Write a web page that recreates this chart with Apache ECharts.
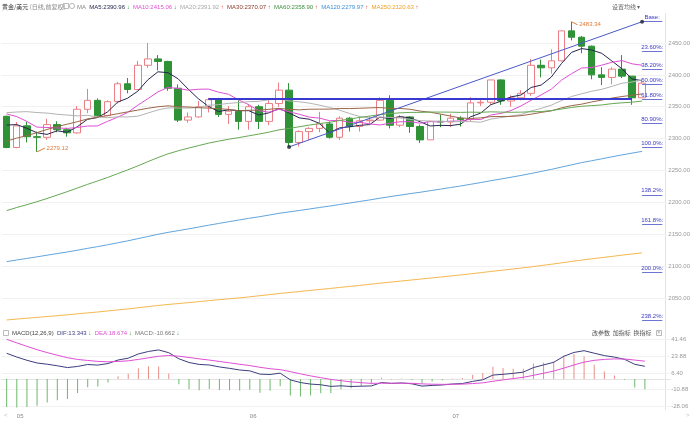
<!DOCTYPE html>
<html><head><meta charset="utf-8">
<script src="https://cdn.jsdelivr.net/npm/echarts@6/dist/echarts.min.js"></script>
<style>html,body{margin:0;padding:0;background:#fff}#c{width:693px;height:423px}</style>
</head><body><div id="c"></div>
<script>
// ---------- data ----------
const dates = ['2024-04-30','2024-05-01','2024-05-02','2024-05-03','2024-05-06','2024-05-07','2024-05-08','2024-05-09','2024-05-10','2024-05-13','2024-05-14','2024-05-15','2024-05-16','2024-05-17','2024-05-20','2024-05-21','2024-05-22','2024-05-23','2024-05-24','2024-05-27','2024-05-28','2024-05-29','2024-05-30','2024-05-31','2024-06-03','2024-06-04','2024-06-05','2024-06-06','2024-06-07','2024-06-10','2024-06-11','2024-06-12','2024-06-13','2024-06-14','2024-06-17','2024-06-18','2024-06-19','2024-06-20','2024-06-21','2024-06-24','2024-06-25','2024-06-26','2024-06-27','2024-06-28','2024-07-01','2024-07-02','2024-07-03','2024-07-04','2024-07-05','2024-07-08','2024-07-09','2024-07-10','2024-07-11','2024-07-12','2024-07-15','2024-07-16','2024-07-17','2024-07-18','2024-07-19','2024-07-22','2024-07-23','2024-07-24','2024-07-25','2024-07-26'];
const futureSlots = ['2024-07-29','2024-07-30'];
const opens = [2335,2286,2320,2303,2302,2322,2314,2309,2346,2360,2336,2358,2386,2377,2415,2425,2421,2379,2329,2334,2350,2361,2338,2343,2327,2350,2327,2355,2376,2294,2311,2316,2323,2302,2332,2319,2328,2329,2360,2321,2334,2319,2298,2327,2326,2332,2330,2356,2357,2392,2359,2364,2371,2415,2411,2422,2469,2459,2445,2400,2396,2409,2398,2364];
const closes = [2286,2320,2303,2302,2322,2314,2309,2346,2360,2336,2358,2386,2377,2415,2425,2421,2379,2329,2334,2350,2361,2338,2343,2327,2350,2327,2355,2376,2294,2311,2316,2323,2302,2332,2319,2328,2329,2360,2321,2334,2319,2298,2327,2326,2332,2330,2356,2357,2392,2359,2364,2371,2415,2411,2422,2469,2459,2445,2400,2396,2409,2398,2364,2387];
const lows = [2285,2285,2294,2279.12,2298,2310,2303,2308,2340,2334,2335,2355,2371,2376,2411,2407,2375,2326,2325,2333,2341,2334,2323,2314,2314,2315,2321,2350,2286.9,2287.5,2298,2310,2300,2298,2311,2311,2323,2328,2316,2318,2309,2293,2298,2318,2318,2319,2327,2351,2353,2353,2350,2360,2367,2396,2402,2421,2454,2434,2393,2384,2385,2395,2353,2364];
const highs = [2336,2326,2326,2311,2331,2327,2317,2351,2378,2363,2360,2389,2395,2422,2450,2431,2422,2385,2341,2359,2364,2364,2351,2360,2354,2353,2360,2388,2387,2313,2318,2342,2327,2335,2334,2335,2335,2365,2368,2337,2335,2322,2328,2338,2339,2335,2365,2363,2392,2393,2368,2376,2425,2424,2440,2469,2483.34,2461,2446,2412,2412,2431,2398,2390];

const ma5 = [2321.2,2322,2316.2,2309.2,2306.6,2312.2,2310,2318.6,2330.2,2333,2341.8,2357.2,2363.4,2374.4,2392.2,2404.8,2403.4,2393.8,2377.6,2362.6,2350.6,2342.4,2345.2,2343.8,2343.8,2337,2340.4,2347,2340.4,2332.6,2330.4,2324,2309.2,2316.8,2318.4,2320.8,2322,2333.6,2331.4,2334.4,2332.6,2326.4,2319.8,2320.8,2320.4,2322.6,2334.2,2340,2353.2,2358.6,2365.4,2368.4,2380.2,2384,2396.6,2417.6,2435.2,2441.2,2439,2433.8,2421.8,2409.6,2393.4,2390.96];
const ma10 = [2338.7,2334.6,2327,2318,2317.5,2316.7,2316,2317.4,2319.7,2319.8,2327,2333.6,2341,2352.3,2362.6,2373.3,2380.3,2378.6,2376,2377.4,2377.7,2372.9,2369.5,2360.7,2353.2,2343.8,2341.4,2346.1,2342.1,2338.2,2333.7,2332.2,2328.1,2328.6,2325.5,2325.6,2323,2321.4,2324.1,2326.4,2326.7,2324.2,2326.7,2326.1,2327.4,2327.6,2330.3,2329.9,2337,2339.5,2344,2351.3,2360.1,2368.6,2377.6,2391.5,2401.8,2410.7,2411.5,2415.2,2419.7,2422.4,2417.3,2415.06];
const ma20 = [2340.7,2341.7,2342.3,2340.9,2340.05,2338.15,2336.95,2335.65,2336.45,2334.1,2332.85,2334.1,2334,2335.15,2340.05,2345,2348.15,2348,2347.85,2348.6,2352.35,2353.25,2355.25,2356.5,2357.9,2358.55,2360.85,2362.35,2359.05,2357.8,2355.7,2352.55,2348.8,2344.65,2339.35,2334.7,2332.2,2333.75,2333.1,2332.3,2330.2,2328.2,2327.4,2327.35,2326.45,2326.6,2326.65,2325.65,2330.55,2332.95,2335.35,2337.75,2343.4,2347.35,2352.5,2359.55,2366.05,2370.3,2374.25,2377.35,2381.85,2386.85,2388.7,2391.92];
const ma30 = [2296.2,2300.7,2304.7,2309.3,2314.3,2318.8,2322.6,2326.5,2330.7,2333.5,2336.1,2339,2341.9,2344.7,2347.6,2349.9,2351.4,2350,2349.6,2348.5,2347.8,2347,2345.8,2343.7,2344.4,2344.6,2345.9,2347.4,2345.9,2345.1,2346.1,2346.2,2346.2,2347.2,2347.1,2347.6,2348.2,2348.7,2347.4,2347.3,2346,2343.1,2341.4,2338.5,2335.4,2332.3,2331.6,2332.5,2334.4,2334.7,2334.8,2335.9,2338.3,2341.1,2343.5,2348.2,2351.7,2354,2357.5,2360.4,2363.5,2366,2368,2370.07];
const ma60 = [2187.0,2191.9,2196.3,2201.0,2206.0,2211.4,2216.7,2222.4,2228.1,2233.5,2239.0,2245.0,2250.9,2257.2,2263.8,2270.3,2276.1,2280.8,2285.0,2288.9,2292.8,2296.0,2299.0,2301.5,2304.3,2307.1,2310.1,2313.7,2316.0,2318.5,2321.2,2323.5,2325.5,2328.3,2330.7,2333.2,2335.4,2337.6,2339.1,2340.4,2341.1,2341.1,2341.7,2341.6,2341.5,2341.1,2341.5,2341.2,2342.0,2341.6,2341.3,2341.5,2342.1,2342.4,2344.0,2346.4,2348.8,2350.7,2351.7,2352.8,2354.8,2356.1,2357.1,2358.9];
const ma120 = [2107.0,2109.6,2112.0,2114.5,2117.1,2119.6,2122.1,2124.9,2127.8,2130.5,2133.4,2136.5,2139.6,2143.0,2146.4,2149.9,2152.9,2155.6,2158.3,2161.1,2164.1,2166.8,2169.6,2172.2,2174.9,2177.3,2180.0,2182.8,2185.0,2187.2,2189.5,2191.9,2194.1,2196.6,2198.9,2201.4,2203.8,2206.5,2208.9,2211.3,2213.7,2215.8,2218.3,2220.7,2223.2,2225.6,2228.3,2231.0,2234.0,2236.6,2239.4,2242.2,2245.3,2248.5,2251.7,2255.3,2258.8,2262.3,2265.3,2268.3,2271.4,2274.4,2277.2,2279.97];
const ma250 = [2015.5,2016.9,2018.2,2019.5,2020.9,2022.2,2023.6,2025.1,2026.6,2028.0,2029.6,2031.2,2032.8,2034.6,2036.4,2038.2,2039.8,2041.2,2042.7,2044.2,2045.7,2047.2,2048.6,2050.0,2051.7,2053.4,2055.1,2057.0,2058.5,2060.1,2061.7,2063.3,2064.8,2066.5,2068.1,2069.7,2071.4,2073.2,2074.8,2076.4,2078.0,2079.6,2081.2,2082.8,2084.5,2086.1,2087.9,2089.7,2091.6,2093.3,2095.1,2096.9,2098.9,2100.9,2102.9,2105.1,2107.3,2109.4,2111.4,2113.3,2115.2,2117.2,2119.0,2120.63];

const dif = [26.9,23.0,19.6,16.8,15.5,13.9,12.0,13.2,15.2,14.6,16.2,19.9,21.8,26.2,28.8,30.4,27.5,21.2,17.3,15.3,14.7,12.7,11.2,9.5,8.6,5.2,4.8,6.2,-0.8,-3.6,-5.2,-5.9,-7.6,-7.0,-7.7,-7.4,-7.1,-3.6,-4.5,-4.0,-4.9,-7.3,-6.6,-6.1,-5.1,-4.6,-2.4,-0.7,4.2,5.0,6.0,7.3,12.0,14.8,17.5,23.8,27.8,29.6,27.0,24.5,22.9,20.6,15.4,13.343];
const dea = [41.46,37.77,34.14,30.67,27.64,24.89,22.31,20.49,19.43,18.46,18.01,18.39,19.07,20.50,22.16,23.81,24.55,23.88,22.56,21.11,19.83,18.40,16.96,15.47,14.10,12.32,10.82,9.90,7.76,5.49,3.35,1.50,-0.32,-1.66,-2.87,-3.78,-4.44,-4.27,-4.32,-4.26,-4.39,-4.97,-5.30,-5.46,-5.39,-5.23,-4.66,-3.87,-2.26,-0.81,0.55,1.90,3.92,6.10,8.38,11.46,14.73,17.70,19.56,20.55,21.02,20.94,19.83,18.674];
const macdHist = [-29.12,-29.54,-29.08,-27.74,-24.28,-21.98,-20.62,-14.58,-8.46,-7.72,-3.62,3.02,5.46,11.4,13.28,13.18,5.9,-5.36,-10.52,-11.62,-10.26,-11.4,-11.52,-11.94,-11.0,-14.24,-12.04,-7.4,-17.12,-18.18,-17.1,-14.8,-14.56,-10.68,-9.66,-7.24,-5.32,1.34,-0.36,0.52,-1.02,-4.66,-2.6,-1.28,0.58,1.26,4.52,6.34,12.92,11.62,10.9,10.8,16.16,17.4,18.24,24.68,26.14,23.8,14.88,7.9,3.76,-0.68,-8.86,-10.662];

const priceTicks = [2050,2100,2150,2200,2250,2300,2350,2400,2450];
const macdTicks = [41.46,23.88,6.40,-10.88,-28.06];
const fibHigh = 2483.34, fibLow = 2286.9;
const fibRatios = [0,0.236,0.382,0.5,0.618,0.809,1,1.382,1.618,2,2.382];
const fibNames = ['Base','23.60%','38.20%','50.00%','61.80%','80.90%','100.0%','138.2%','161.8%','200.0%','238.2%'];
const trendStartIdx = 28, trendEndIdx = 63, hLineStartIdx = 20, hLineEndIdx = 62;
const maxIdx = 56, minIdx = 3;

// ---------- chart ----------
const FONT = '"Liberation Sans", Arial, "Noto Sans CJK SC", sans-serif';
const CJK = '"Noto Sans CJK SC", "Liberation Sans", sans-serif';
const UP = '#ec7f86', DOWN = '#2f9236';
const cats = dates.concat(futureSlots);
const candle = opens.map((o, i) => [o, closes[i], lows[i], highs[i]]);
const fibLevels = fibRatios.map(r => fibHigh - r * (fibHigh - fibLow));
const fib618 = fibLevels[fibRatios.indexOf(0.618)];

const GL = 1.6, GW = 668.6;

function arrow(arr){ const n = arr.length; return arr[n-1] >= arr[n-2] ? '↑' : '↓'; }
function arrowColor(arr){ return arrow(arr) === '↑' ? '#e0403a' : '#2f9236'; }

function richLine(parts){
  let text = '', rich = {};
  parts.forEach((p, i) => {
    const k = 's' + i;
    text += '{' + k + '|' + p.t + '}';
    rich[k] = {fill: p.c, color: p.c, fontSize: p.fs || 6, fontFamily: p.ff || FONT};
  });
  return {text, rich};
}

const maDefs = [
  ['MA5', ma5, '#26264f', '#26264f'],
  ['MA10', ma10, '#e04fd4', '#e04fd4'],
  ['MA20', ma20, '#a8a8a8', '#b3b3b3'],
  ['MA30', ma30, '#8e3b2c', '#9a6648'],
  ['MA60', ma60, '#3f8f3f', '#66a853'],
  ['MA120', ma120, '#3f8fd8', '#62a5dd'],
  ['MA250', ma250, '#f0a020', '#f5b850']
];

const topParts = [{t:'MA  ', c:'#888'}];
maDefs.forEach(d => {
  const a = d[1];
  topParts.push({t: d[0] + ':' + a[a.length-1].toFixed(2) + ' ', c: d[2]});
  topParts.push({t: arrow(a) + '  ', c: arrowColor(a)});
});
const topRich = richLine(topParts);
const titleRich = richLine([{t:'黄金/美元 ', c:'#333', ff: CJK}, {t:'(日线,前复权)', c:'#888', ff: CJK}]);

const macdParts = [
  {t:'MACD(12,26,9)  ', c:'#444'},
  {t:'DIF:' + dif[dif.length-1].toFixed(3) + ' ', c:'#3d3d80'}, {t: arrow(dif) + '  ', c: arrowColor(dif)},
  {t:'DEA:' + dea[dea.length-1].toFixed(3) + ' ', c:'#e04fd4'}, {t: arrow(dea) + '  ', c: arrowColor(dea)},
  {t:'MACD:' + macdHist[macdHist.length-1].toFixed(3) + ' ', c:'#777'}, {t: arrow(macdHist), c: arrowColor(macdHist)}
];
const macdRich = richLine(macdParts);

const fibMarks = fibLevels.map((lv, i) => [
  {coord: [cats[trendEndIdx], lv], label: {formatter: fibNames[i] + ':'}},
  {coord: [cats[cats.length-1], lv]}
]);

const option = {
  animation: false,
  backgroundColor: '#fff',
  textStyle: {fontFamily: FONT},
  grid: [
    {left: GL, width: GW, top: 11.1, height: 318.75},
    {left: GL, width: GW, top: 327, height: 83}
  ],
  xAxis: [
    {type:'category', gridIndex:0, data: cats, boundaryGap: true,
     axisLine:{show:false}, axisTick:{show:false}, axisLabel:{show:false}, splitLine:{show:false}},
    {type:'category', gridIndex:1, data: cats, boundaryGap: true,
     axisLine:{show:true, lineStyle:{color:'#e3e3e3'}}, axisTick:{show:false},
     axisLabel:{show:true, fontSize:6, color:'#888', align:'left', margin:3,
       interval: (i, v) => i > 0 && i < dates.length && dates[i].slice(5,7) !== dates[i-1].slice(5,7),
       formatter: v => v.slice(5,7)},
     splitLine:{show:false}}
  ],
  yAxis: [
    {type:'value', gridIndex:0, position:'right', min:2000, max:2500, interval:50,
     axisLine:{show:false}, axisTick:{show:false},
     axisLabel:{fontSize:6, color:'#999', margin:1, showMinLabel:false, showMaxLabel:false,
       formatter: v => priceTicks.includes(v) ? v.toFixed(2) : ''},
     splitLine:{show:true, showMinLine:false, showMaxLine:false, lineStyle:{color:'#f1f1f1', width:1}}},
    {type:'value', gridIndex:1, position:'right', min:-32.2, max:54.3,
     axisLine:{show:false},
     axisTick:{show:false, customValues: macdTicks},
     axisLabel:{fontSize:6, color:'#999', margin:1, customValues: macdTicks, formatter: v => v.toFixed(2)},
     splitLine:{show:true, lineStyle:{color:'#f1f1f1'}}}
  ],
  series: [
    {type:'candlestick', name:'K', xAxisIndex:0, yAxisIndex:0, data: candle, barWidth: 7,
     itemStyle:{color:'#ffffff', color0: DOWN, borderColor: UP, borderColor0: DOWN, borderWidth: 1},
     markLine:{silent:true, symbol:['none','none'], animation:false,
       data: [
         [{coord:[cats[trendStartIdx], fibLow], lineStyle:{color:'#4a58c8', width:1}, label:{show:false}},
          {coord:[cats[trendEndIdx], fibHigh]}],
         [{coord:[cats[hLineStartIdx], fib618], lineStyle:{color:'#3a3ad2', width:2}, label:{show:false}},
          {coord:[cats[hLineEndIdx], fib618]}]
       ].concat(fibMarks),
       lineStyle:{color:'#6d74d6', width:1, type:'solid'},
       label:{show:true, position:'insideMiddleTop', distance:1, fontSize:6, color:'#3b3bc4', fontFamily: FONT}
     },
     markPoint:{silent:true, animation:false,
       data:[
         {coord:[cats[maxIdx], highs[maxIdx]], value: highs[maxIdx].toFixed(2),
          symbol:'path://M0,0L8,4', symbolSize:[6,3], symbolOffset:[3,1.5],
          label:{show:true, position:'right', distance:1, offset:[0,1], formatter: p => p.value}},
         {coord:[cats[minIdx], lows[minIdx]], value: lows[minIdx].toFixed(2),
          symbol:'path://M0,4L8,0', symbolSize:[8,4], symbolOffset:[4,-2],
          label:{show:true, position:'right', distance:1, offset:[0,-2], formatter: p => p.value}}
       ],
       itemStyle:{color:'rgba(0,0,0,0)', borderColor:'#e07b39', borderWidth:1},
       label:{fontSize:6, color:'#e07b39', fontFamily: FONT}
     }
    }
  ].concat(maDefs.map(d => ({
    type:'line', name:d[0], xAxisIndex:0, yAxisIndex:0, data:d[1], symbol:'none', showSymbol:false,
    lineStyle:{color:d[3], width:1}, z:3, silent:true
  }))).concat([
    {type:'scatter', xAxisIndex:0, yAxisIndex:0, symbolSize:4, z:5, silent:true,
     itemStyle:{color:'#1e1e2e'},
     data:[[cats[trendStartIdx], fibLow],[cats[trendEndIdx], fibHigh]]},
    {type:'bar', name:'MACD', xAxisIndex:1, yAxisIndex:1, data: macdHist, barWidth:1, silent:true,
     itemStyle:{color: p => p.value >= 0 ? '#e98f86' : '#6cb86c'}},
    {type:'line', name:'DIF', xAxisIndex:1, yAxisIndex:1, data: dif, symbol:'none', lineStyle:{color:'#3d3d80', width:1}, silent:true},
    {type:'line', name:'DEA', xAxisIndex:1, yAxisIndex:1, data: dea, symbol:'none', lineStyle:{color:'#e04fd4', width:1}, silent:true}
  ]),
  graphic: [
    {type:'text', x:2, y:7, style:{text:titleRich.text, rich:titleRich.rich, verticalAlign:'middle', fontSize:6}},
    {type:'rect', shape:{x:63.5, y:3.5, width:5, height:5}, style:{fill:'none', stroke:'#aaa', lineWidth:0.8}},
    {type:'circle', shape:{cx:72, cy:6, r:2.6}, style:{fill:'none', stroke:'#aaa', lineWidth:0.8}},
    {type:'text', x:77, y:7, style:{text:topRich.text, rich:topRich.rich, verticalAlign:'middle', fontSize:6}},
    {type:'text', x:612, y:7, style:{text:'设置均线 ▾', fill:'#666', fontSize:6, fontFamily:CJK, verticalAlign:'middle'}},
    {type:'rect', shape:{x:3.5, y:330.5, width:5, height:5}, style:{fill:'none', stroke:'#aaa', lineWidth:0.8}},
    {type:'text', x:12, y:333, style:{text:macdRich.text, rich:macdRich.rich, verticalAlign:'middle', fontSize:6}},
    {type:'text', x:592, y:333, style:{text:'改参数  加指标  换指标', fill:'#555', fontSize:6, fontFamily:CJK, verticalAlign:'middle'}},
    {type:'rect', shape:{x:656.5, y:330.5, width:5, height:5}, style:{fill:'none', stroke:'#aaa', lineWidth:0.8}},
    {type:'text', x:657.3, y:333, style:{text:'×', fill:'#888', fontSize:5, fontFamily:FONT, verticalAlign:'middle'}},
    {type:'line', shape:{x1:665.5, y1:13, x2:665.5, y2:410}, style:{stroke:'#e3e3e3', lineWidth:1}},
    {type:'text', x:4, y:415, style:{text:'<', fill:'#bbb', fontSize:6, fontFamily:FONT, verticalAlign:'middle'}},
    {type:'text', x:686, y:415, style:{text:'>', fill:'#bbb', fontSize:6, fontFamily:FONT, verticalAlign:'middle'}}
  ]
};
const chart = echarts.init(document.getElementById('c'));
chart.setOption(option);
</script>
</body></html>
